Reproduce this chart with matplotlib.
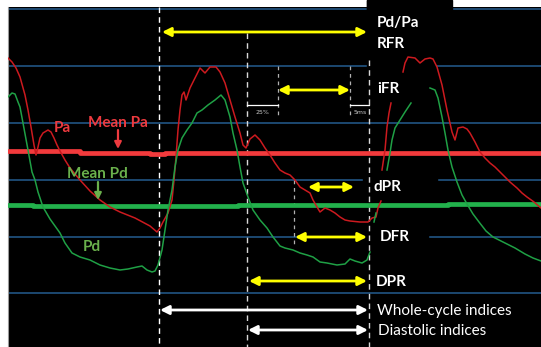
import numpy as np
import matplotlib.pyplot as plt
from matplotlib.patches import Rectangle

# positions are in picture units (x: time, y: pressure drawn downwards)
nan = np.nan

pa_x = [8, 12, 16, 20, 25, 28, 31, 34, 36, 38, 40, 43, 48, 51, 54, 57, 60, 65, 70, 75, 80, 90, 100,
        110, 120, 135, 150, 157, 160, 163, 168, 172, 174, 176, 178, 180, 182, 184, 186, 190, 195, 200,
        205, 210, 216, 220, 225, 230, 235, 240, 243, 246, 250, 255, 260, 265, 270, 275, 280, 285, 290,
        295, 300, 305, 310, 313, 317, 320, 325, 330, 335, 340, 345, 350, 360, 368, 372, 376, 378, 381,
        nan, 382, 385, 387, 389, 391,
        nan, 403, 405, 408, 415, 420, 425, 430, 433, 437, 442, 447, 452, 455, 458, 463, 467, 470, 475,
        480, 485, 490, 495, 500, 505, 510, 517, 522, 527, 534, 541]
pa_y = [58, 62, 68, 77, 95, 110, 127, 145, 155, 147, 138, 133, 130, 132, 138, 145, 151, 160, 168, 174,
        180, 191, 200, 207, 212, 218, 226, 232, 228, 222, 213, 200, 180, 157, 130, 110, 95, 92, 100, 88,
        78, 68, 73, 67, 67, 72, 83, 100, 117, 133, 145, 148, 139, 135, 140, 148, 155, 163, 170, 173, 175,
        180, 187, 190, 193, 200, 207, 212, 208, 210, 213, 217, 220, 221, 222, 222, 218, 217, 208, 201,
        nan, 170, 150, 127, 113, 103,
        nan, 72, 63, 57, 58, 63, 59, 58, 59, 67, 85, 110, 132, 140, 128, 127, 129, 133, 142,
        152, 158, 163, 167, 172, 177, 182, 188, 193, 197, 202, 208]

pd_x = [8, 12, 15, 18, 20, 23, 28, 32, 35, 38, 43, 50, 55, 60, 65, 72, 80, 90, 100, 110, 120, 128,
        137, 142, 147, 152, 155, 158, 162, 165, 168, 172, 175, 178, 182, 187, 192, 197, 202, 208, 215,
        221, 225, 230, 233, 237, 240, 243, 248, 253, 260, 267, 273, 280, 285, 293, 300, 307, 313, 320,
        327, 337, 345, 350, 355, 362, 367, 370,
        nan, 374, 376,
        nan, 387, 390, 392, 395, 400, 405, 411,
        nan, 430, 435, 438, 442, 445, 448, 452, 457, 462, 467, 473, 479, 486, 493, 503, 515, 525, 533, 541]
pd_y = [97, 93, 94, 102, 107, 123, 150, 172, 180, 192, 207, 219, 226, 233, 243, 253, 257, 260, 265, 268,
        270, 269, 267, 266, 270, 272, 271, 265, 250, 230, 210, 190, 167, 150, 138, 130, 123, 113, 110,
        105, 100, 95, 100, 117, 133, 150, 167, 183, 197, 210, 220, 228, 237, 246, 248, 250, 253, 255,
        257, 262, 263, 265, 264, 259, 261, 263, 260, 252,
        nan, 222, 213,
        nan, 170, 153, 140, 128, 120, 112, 103,
        nan, 88, 90, 98, 117, 133, 150, 167, 182, 195, 204, 214, 222, 231, 237, 242, 248, 254, 258, 261]

# running means (stepped traces)
mean_pa_x = [8, 80, 80, 150, 150, 165, 165, 541]
mean_pa_y = [150.5, 150.5, 152.5, 152.5, 153.5, 153.5, 152.5, 152.5]
mean_pd_x = [8, 33, 33, 238, 238, 448, 448, 541]
mean_pd_y = [204.5, 204.5, 206, 206, 205, 205, 203.5, 203.5]

# index windows: name, start, end, row, colour
idx_names = ['RFR', 'iFR', 'dPR', 'DFR', 'DPR', 'Whole-cycle', 'Diastolic']
idx_start = [162, 278, 308, 295, 249, 160, 248]
idx_end = [367, 350, 354, 367, 367, 368, 368]
idx_row = [32, 90, 187, 237, 281, 310, 330]
idx_color = ['#ffff00'] * 5 + ['white'] * 2

grid_rows = [9, 66, 123, 180, 237, 293]

fig = plt.figure(figsize=(5.41, 3.47), dpi=100, facecolor='white')
ax = fig.add_axes([8 / 541, 0, 533 / 541, 340 / 347])
ax.set_facecolor('black')
ax.set_xlim(8, 541)
ax.set_ylim(347, 7)
ax.set_xticks([])
ax.set_yticks([])
for s in ['top', 'right', 'bottom']:
    ax.spines[s].set_visible(False)
ax.spines['left'].set_color('#9a9a9a')
ax.spines['left'].set_linewidth(0.8)

for r in grid_rows:
    ax.axhline(r, color='#1f4e79', lw=1.3, zorder=1)

# black boxes behind the index labels
for bx, by, bw, bh in [(367, 0, 85, 14), (367, 0, 68, 70), (363, 175, 74, 22), (363, 228, 65, 18)]:
    ax.add_patch(Rectangle((bx, by), bw, bh, color='black', zorder=2, clip_on=False))

# cycle markers
ax.plot([159, 159], [7, 347], color='white', lw=1.0, ls=(0, (4, 3)), zorder=3)
ax.plot([247, 247], [33, 347], color='#d8d8d8', lw=1.0, ls=(0, (4, 3)), zorder=3)
ax.plot([369, 369], [60, 347], color='#d8d8d8', lw=1.0, ls=(0, (4, 3)), zorder=3)
for gx, y0, y1 in [(278, 66, 115), (350, 66, 115), (294, 180, 245)]:
    ax.plot([gx, gx], [y0, y1], color='#b0b0b0', lw=0.9, ls=(0, (3, 3)), zorder=3)
ax.plot([247, 278], [105, 105], color='white', lw=0.9, zorder=3)
ax.plot([350, 369], [105, 105], color='white', lw=0.9, zorder=3)
ax.text(262, 112, '25%', color='#c8c8c8', fontsize=4.5, ha='center', va='center', zorder=6)
ax.text(360, 112, '5ms', color='#c8c8c8', fontsize=4.5, ha='center', va='center', zorder=6)

ax.plot(mean_pa_x, mean_pa_y, color='#f23a3c', lw=3.4, zorder=4)
ax.plot(mean_pd_x, mean_pd_y, color='#22b14c', lw=3.4, zorder=4)
ax.plot(pa_x, pa_y, color='#cc1a1f', lw=1.1, zorder=5)
ax.plot(pd_x, pd_y, color='#1fa045', lw=1.1, zorder=5)

for name, x0, x1, r, c in zip(idx_names, idx_start, idx_end, idx_row, idx_color):
    ax.annotate('', xy=(x1, r), xytext=(x0, r),
                arrowprops=dict(arrowstyle='<|-|>', color=c, lw=2.0, mutation_scale=13,
                                shrinkA=0, shrinkB=0), zorder=6)

fam = ['Lato', 'DejaVu Sans']
lab = dict(color='white', fontsize=11, fontweight='bold', family=fam, va='center', zorder=7)
ax.text(377, 23, 'Pd/Pa', clip_on=False, **lab)
ax.text(377, 44, 'RFR', **lab)
ax.text(377, 89, 'iFR', **lab)
ax.text(373, 187, 'dPR', **lab)
ax.text(380, 237, 'DFR', **lab)
ax.text(376, 282, 'DPR', **lab)
ax.text(377, 311, 'Whole-cycle indices', color='white', fontsize=11, family=fam, va='center', zorder=7)
ax.text(378, 331, 'Diastolic indices', color='white', fontsize=11, family=fam, va='center', zorder=7)

ax.text(54, 128, 'Pa', color='#ee3a3f', fontsize=11, fontweight='bold', family=fam, va='center', zorder=7)
ax.text(88, 123, 'Mean Pa', color='#ee3a3f', fontsize=11, fontweight='bold', family=fam, va='center', zorder=7)
ax.annotate('', xy=(118, 149), xytext=(118, 130),
            arrowprops=dict(arrowstyle='-|>', color='#ee3a3f', lw=1.6, mutation_scale=10,
                            shrinkA=0, shrinkB=0), zorder=6)
ax.text(67, 174, 'Mean Pd', color='#6ab04c', fontsize=11, fontweight='bold', family=fam, va='center', zorder=7)
ax.annotate('', xy=(98, 200), xytext=(98, 182),
            arrowprops=dict(arrowstyle='-|>', color='#6ab04c', lw=1.6, mutation_scale=10,
                            shrinkA=0, shrinkB=0), zorder=6)
ax.text(83, 247, 'Pd', color='#6ab04c', fontsize=11, fontweight='bold', family=fam, va='center', zorder=7)

fig.savefig('out.png', dpi=100, facecolor='white')
